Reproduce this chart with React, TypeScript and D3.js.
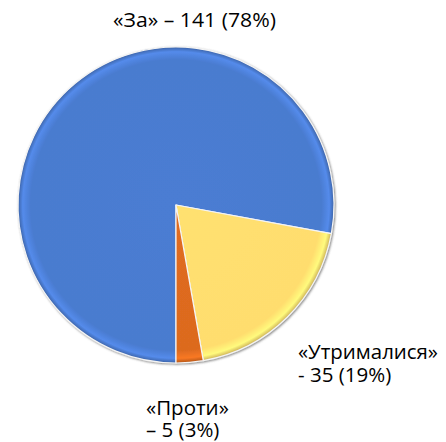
import React from 'react';
import * as d3 from 'd3';

// Vote results
const categories = ['«За»', '«Утрималися»', '«Проти»'];
const votes = [141, 35, 5];
const percents = [78, 19, 3];
const colors = ['#4a7bcf', '#ffdd6e', '#dc6a1f'];

const W = 446;
const H = 442;
const cx = 176;
const cy = 205;
const R = 158;

const App: React.FC = () => {
  const pie = d3
    .pie<number>()
    .sort(null)
    .startAngle(Math.PI)
    .endAngle(Math.PI * 3);
  const arcs = pie(votes);
  const arc = d3.arc<d3.PieArcDatum<number>>().innerRadius(0).outerRadius(R);

  const font = "'Open Sans', sans-serif";

  return (
    <svg
      width={W}
      height={H}
      style={{ position: 'absolute', left: 0, top: 0, background: '#fff' }}
    >
      <defs>
        {colors.map((c, i) => {
          const base = d3.color(c)!;
          return (
            <radialGradient
              key={i}
              id={`g${i}`}
              gradientUnits="userSpaceOnUse"
              cx={0}
              cy={0}
              r={R}
            >
              <stop offset="0%" stopColor={base.brighter(0.05).toString()} />
              <stop offset="92%" stopColor={base.toString()} />
              <stop offset="97%" stopColor={base.brighter(0.35).toString()} />
              <stop offset="100%" stopColor={base.darker(0.6).toString()} />
            </radialGradient>
          );
        })}
        <filter id="sh" x="-10%" y="-10%" width="120%" height="120%">
          <feDropShadow dx="1" dy="1" stdDeviation="1.2" floodColor="#555" floodOpacity="0.7" />
        </filter>
      </defs>
      <g transform={`translate(${cx},${cy})`} filter="url(#sh)">
        {arcs.map((a, i) => (
          <path
            key={i}
            d={arc(a) || ''}
            fill={`url(#g${i})`}
            stroke="#f4f4f4"
            strokeWidth={1.2}
            strokeLinejoin="round"
          />
        ))}
      </g>
      <g fontFamily={font} fontSize={20.5} fill="#000">
        <text x={113} y={27} textLength={163} lengthAdjust="spacingAndGlyphs">
          {`${categories[0]} – ${votes[0]} (${percents[0]}%)`}
        </text>
        <text x={298} y={359}>
          <tspan x={298} y={359} textLength={140} lengthAdjust="spacingAndGlyphs">
            {categories[1]}
          </tspan>
          <tspan x={298} y={382}>{`- ${votes[1]} (${percents[1]}%)`}</tspan>
        </text>
        <text x={146} y={415}>
          <tspan x={146} y={415}>{categories[2]}</tspan>
          <tspan x={146} y={437}>{`– ${votes[2]} (${percents[2]}%)`}</tspan>
        </text>
      </g>
    </svg>
  );
};

export default App;
